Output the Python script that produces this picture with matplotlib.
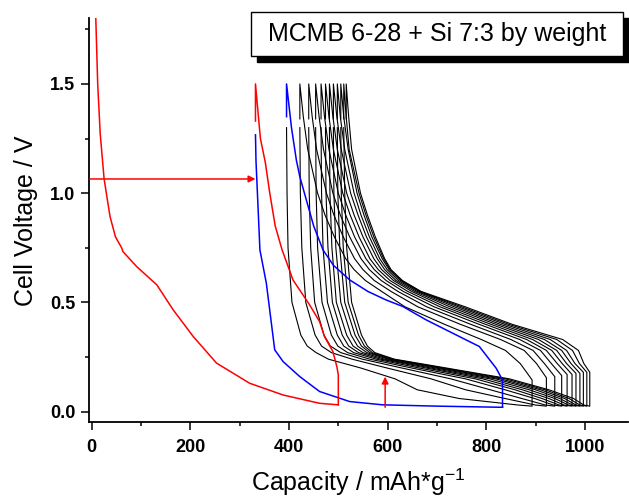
import matplotlib
matplotlib.use('Agg')
import matplotlib.pyplot as plt
from matplotlib.patches import Rectangle

plt.rcParams['font.family'] = ['Liberation Sans', 'DejaVu Sans']
plt.rcParams['mathtext.fontset'] = 'custom'
plt.rcParams['mathtext.rm'] = 'Liberation Sans'
plt.rcParams['mathtext.default'] = 'rm'

# cycle 1 (red): discharge, rest, charge, rest
red_dis_cap = [5, 8, 12, 17, 25, 37, 48, 61, 63, 91, 132, 165, 206, 253, 320, 388, 462, 500]
red_dis_v = [2.0, 1.81, 1.5, 1.275, 1.065, 0.893, 0.80, 0.748, 0.733, 0.664, 0.58,
             0.466, 0.343, 0.222, 0.13, 0.076, 0.038, 0.031]
red_chg_cap = [500, 500, 497, 489, 472, 462, 442, 408, 386, 372, 361, 352, 342, 332, 332]
red_chg_v = [0.031, 0.168, 0.206, 0.275, 0.343, 0.412, 0.488, 0.603, 0.74, 0.85, 1.0,
             1.14, 1.25, 1.5, 1.33]

# cycle 2 (blue)
blue_dis_cap = [332, 333, 341, 354, 371, 388, 422, 462, 523, 590, 700, 826, 833]
blue_dis_v = [1.267, 1.15, 0.74, 0.588, 0.283, 0.229, 0.16, 0.092, 0.046, 0.031,
              0.025, 0.02, 0.02]
blue_chg_cap = [833, 833, 820, 786, 739, 678, 631, 597, 560, 523, 490, 469, 450, 435,
                422, 415, 405, 395, 395]
blue_chg_v = [0.02, 0.145, 0.199, 0.298, 0.351, 0.42, 0.481, 0.511, 0.55, 0.603, 0.67,
              0.74, 0.85, 0.97, 1.075, 1.15, 1.3, 1.5, 1.35]

# cycles 3..13 (black): capacity at fixed voltages
dis_grid = [1.30, 1.00, 0.75, 0.50, 0.35, 0.30, 0.27, 0.24, 0.20, 0.15, 0.10, 0.06, 0.03]
dis_caps = [
    [395, 396, 398, 406, 424, 437, 455, 480, 545, 615, 660, 745, 865],
    [422, 423, 426, 434, 453, 466, 486, 528, 598, 688, 758, 838, 900],
    [440, 441, 444, 452, 471, 484, 505, 549, 628, 728, 808, 872, 920],
    [454, 455, 458, 467, 486, 499, 519, 564, 648, 758, 838, 898, 936],
    [465, 466, 469, 478, 498, 511, 531, 577, 663, 778, 858, 913, 948],
    [474, 475, 479, 488, 508, 521, 541, 586, 677, 793, 873, 927, 958],
    [482, 483, 487, 496, 517, 530, 550, 594, 687, 807, 887, 939, 967],
    [490, 491, 495, 505, 526, 539, 558, 601, 697, 819, 900, 949, 975],
    [498, 499, 503, 513, 534, 547, 564, 606, 705, 829, 910, 959, 982],
    [505, 506, 510, 520, 541, 553, 569, 610, 712, 839, 919, 968, 990],
    [511, 513, 517, 527, 547, 559, 574, 614, 718, 847, 927, 977, 998],
]
dis_end = [893, 922, 939, 953, 964, 974, 982, 990, 997, 1004, 1010]
rest_low = 0.025
rest_top = [0.145, 0.155, 0.16, 0.165, 0.17, 0.17, 0.175, 0.175, 0.18, 0.18, 0.18]
chg_grid = [0.22, 0.28, 0.33, 0.40, 0.48, 0.55, 0.60, 0.65, 0.70, 0.80, 0.90, 1.00,
            1.20, 1.35, 1.50]
chg_caps = [
    [869, 839, 790, 715, 635, 588, 555, 532, 515, 492, 473, 458, 438, 429, 422],
    [902, 877, 829, 747, 661, 607, 573, 550, 533, 510, 491, 476, 456, 447, 440],
    [918, 895, 850, 768, 679, 621, 587, 563, 546, 523, 504, 489, 470, 461, 454],
    [932, 910, 868, 785, 694, 632, 597, 573, 556, 533, 515, 500, 481, 472, 465],
    [944, 922, 882, 798, 706, 641, 605, 581, 564, 542, 524, 509, 490, 481, 474],
    [954, 933, 894, 809, 716, 649, 612, 588, 572, 550, 532, 517, 498, 489, 482],
    [963, 943, 906, 819, 726, 655, 617, 594, 579, 557, 540, 525, 506, 497, 490],
    [972, 953, 918, 828, 735, 660, 622, 599, 584, 563, 546, 532, 513, 504, 498],
    [980, 963, 930, 837, 743, 664, 626, 603, 589, 568, 552, 538, 520, 511, 505],
    [989, 975, 943, 845, 750, 666, 628, 605, 592, 572, 556, 542, 522, 516, 511],
    [998, 987, 955, 852, 757, 668, 630, 607, 594, 575, 559, 545, 527, 521, 516],
]
top_rest_v = 1.34

# arrows (start and end points in data units)
arrow_h = (-4, 1.065, 332, 1.065)
arrow_v = (595, 0.02, 595, 0.16)

fig = plt.figure(figsize=(6.29, 4.98), dpi=100)
ax = fig.add_axes([0.142, 0.152, 0.856, 0.811])

for i in range(len(dis_caps)):
    x = dis_caps[i] + [dis_end[i], dis_end[i], dis_end[i]] + chg_caps[i] + [chg_caps[i][-1]]
    y = dis_grid + [rest_low, rest_low, rest_top[i]] + chg_grid + [top_rest_v]
    ax.plot(x, y, color='black', lw=0.8)

ax.plot(blue_dis_cap, blue_dis_v, color='#0000ff', lw=1.1)
ax.plot(blue_chg_cap, blue_chg_v, color='#0000ff', lw=1.1)
ax.plot(red_dis_cap, red_dis_v, color='#ff0000', lw=1.1)
ax.plot(red_chg_cap, red_chg_v, color='#ff0000', lw=1.1)

for a in (arrow_h, arrow_v):
    ax.annotate('', xy=(a[2], a[3]), xytext=(a[0], a[1]),
                arrowprops=dict(arrowstyle='-|>', color='#ff0000', lw=1.1,
                                mutation_scale=10, shrinkA=0, shrinkB=0))

ax.set_xlim(-5, 1087)
ax.set_ylim(-0.049, 1.80)
ax.spines['top'].set_visible(False)
ax.spines['right'].set_visible(False)
for s in ('left', 'bottom'):
    ax.spines[s].set_linewidth(1.3)

ax.set_xticks([0, 200, 400, 600, 800, 1000])
ax.set_xticks([100, 300, 500, 700, 900], minor=True)
ax.set_yticks([0.0, 0.5, 1.0, 1.5])
ax.set_yticklabels(['0.0', '0.5', '1.0', '1.5'])
ax.set_yticks([0.25, 0.75, 1.25, 1.75], minor=True)
ax.tick_params(which='major', direction='out', length=6, width=1.1, labelsize=13)
ax.tick_params(which='minor', direction='out', length=3, width=1.1)
ax.tick_params(axis='x', pad=6)
ax.tick_params(axis='y', pad=4)
for lab in ax.get_xticklabels() + ax.get_yticklabels():
    lab.set_fontweight('bold')

ax.set_xlabel('Capacity / mAh*g$^{\\mathrm{-1}}$', fontsize=18, labelpad=8)
ax.set_ylabel('Cell Voltage / V', fontsize=18, labelpad=9)

# label box with shadow
W, H = 629.0, 498.0
fig.add_artist(Rectangle((257 / W, 1 - 62 / H), 372 / W, 44.3 / H,
                         transform=fig.transFigure, facecolor='black', edgecolor='black'))
fig.add_artist(Rectangle((251 / W, 1 - 56 / H), 372 / W, 44.3 / H,
                         transform=fig.transFigure, facecolor='white', edgecolor='black', lw=1))
fig.text(437 / W, 1 - 34 / H, 'MCMB 6-28 + Si 7:3 by weight', fontsize=18,
         ha='center', va='center')

fig.savefig('out.png', dpi=100)
